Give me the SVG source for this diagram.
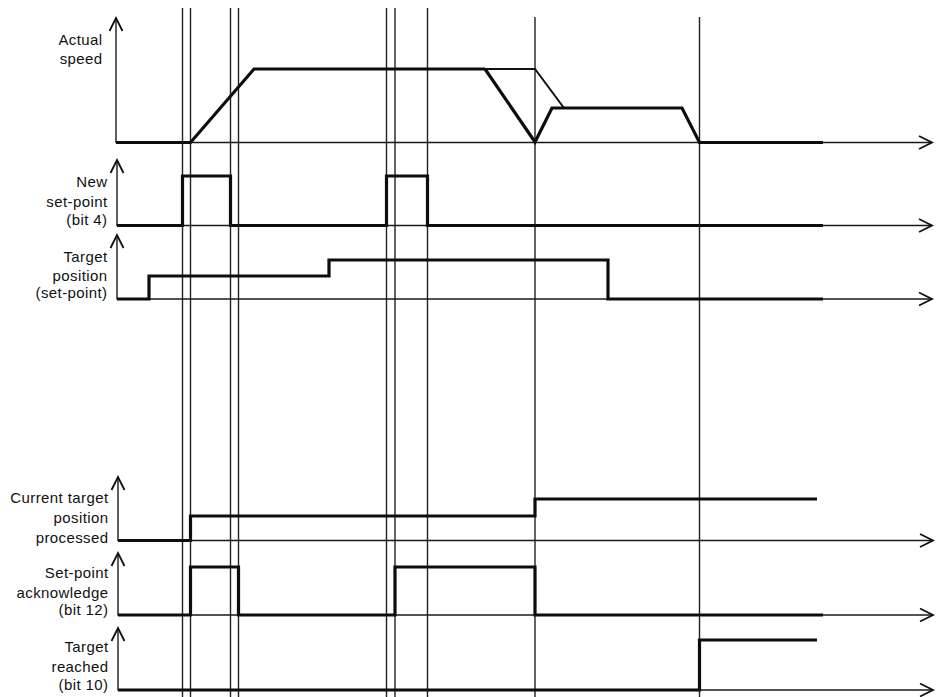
<svg xmlns="http://www.w3.org/2000/svg" width="950" height="697" viewBox="0 0 950 697">
<style>
  .lbl { font-family: "Liberation Sans", Arial, sans-serif; font-size: 15px; fill: #111; text-anchor: end; letter-spacing: 0.4px; }
  .axis { fill: none; stroke: #1a1a1a; stroke-width: 1.4; }
  .sig { fill: none; stroke: #0d0d0d; stroke-width: 3.2; stroke-linejoin: miter; }
  .thin { fill: none; stroke: #111; stroke-width: 2; }
  .mark { stroke: #222; stroke-width: 1.4; }
</style>
<defs>
  <marker id="arr" markerUnits="userSpaceOnUse" markerWidth="20" markerHeight="20" refX="0" refY="0" viewBox="-16 -10 20 20" orient="auto">
    <path d="M-13,-6.5 L0,0 L-13,6.5" fill="none" stroke="#111" stroke-width="1.8"/>
  </marker>
</defs>
<rect width="950" height="697" fill="#fff"/>

<g id="markers">
  <line class="mark" x1="182.5" y1="8" x2="182.5" y2="697"/>
  <line class="mark" x1="190.5" y1="8" x2="190.5" y2="697"/>
  <line class="mark" x1="230.5" y1="8" x2="230.5" y2="697"/>
  <line class="mark" x1="238.5" y1="8" x2="238.5" y2="697"/>
  <line class="mark" x1="386.5" y1="8" x2="386.5" y2="697"/>
  <line class="mark" x1="395" y1="8" x2="395" y2="697"/>
  <line class="mark" x1="427.5" y1="8" x2="427.5" y2="697"/>
  <line class="mark" x1="535" y1="17" x2="535" y2="697"/>
  <line class="mark" x1="699.5" y1="17" x2="699.5" y2="697"/>
</g>

<g id="actual-speed">
  <text class="lbl" x="102.5" y="45">Actual</text>
  <text class="lbl" x="102.5" y="64">speed</text>
  <path class="axis" d="M116,143 V18" marker-end="url(#arr)"/>
  <path class="axis" d="M116,142.5 H932" marker-end="url(#arr)"/>
  <path class="sig" d="M116,142.5 H190.5 L254,69 H485"/>
  <path class="thin" d="M485,69 H535 L564,108"/>
  <path class="sig" d="M485,69 L535,142 L552,108 H682 L699.5,142.5 H823"/>
</g>

<g id="new-set-point">
  <text class="lbl" x="107.5" y="187">New</text>
  <text class="lbl" x="107.5" y="207">set-point</text>
  <text class="lbl" x="107.5" y="225">(bit 4)</text>
  <path class="axis" d="M117,226 V160" marker-end="url(#arr)"/>
  <path class="axis" d="M117,225.5 H932" marker-end="url(#arr)"/>
  <path class="sig" d="M117,225.5 H182.5 V176 H230.5 V225.5 H386.5 V176 H427.5 V225.5 H823"/>
</g>

<g id="target-position">
  <text class="lbl" x="107.5" y="262">Target</text>
  <text class="lbl" x="107.5" y="281">position</text>
  <text class="lbl" x="107.5" y="298">(set-point)</text>
  <path class="axis" d="M117,299.5 V235" marker-end="url(#arr)"/>
  <path class="axis" d="M117,299 H932" marker-end="url(#arr)"/>
  <path class="sig" d="M117,299 H149 V276 H329 V260 H608 V299 H823"/>
</g>

<g id="current-target-processed">
  <text class="lbl" x="108.5" y="503">Current target</text>
  <text class="lbl" x="108.5" y="523">position</text>
  <text class="lbl" x="108.5" y="543">processed</text>
  <path class="axis" d="M118,541 V477" marker-end="url(#arr)"/>
  <path class="axis" d="M118,540.5 H933" marker-end="url(#arr)"/>
  <path class="sig" d="M118,540.5 H190.5 V516 H535 V499 H817"/>
</g>

<g id="set-point-acknowledge">
  <text class="lbl" x="108.5" y="578">Set-point</text>
  <text class="lbl" x="108.5" y="598">acknowledge</text>
  <text class="lbl" x="108.5" y="615">(bit 12)</text>
  <path class="axis" d="M118,615.5 V553" marker-end="url(#arr)"/>
  <path class="axis" d="M118,615 H933" marker-end="url(#arr)"/>
  <path class="sig" d="M118,615 H190.5 V567 H238.5 V615 H395 V567 H535 V615 H823"/>
</g>

<g id="target-reached">
  <text class="lbl" x="108.5" y="652">Target</text>
  <text class="lbl" x="108.5" y="672">reached</text>
  <text class="lbl" x="108.5" y="690">(bit 10)</text>
  <path class="axis" d="M118,690.5 V628" marker-end="url(#arr)"/>
  <path class="axis" d="M118,690 H933" marker-end="url(#arr)"/>
  <path class="sig" d="M118,690 H699.5 V640 H817"/>
</g>
</svg>
